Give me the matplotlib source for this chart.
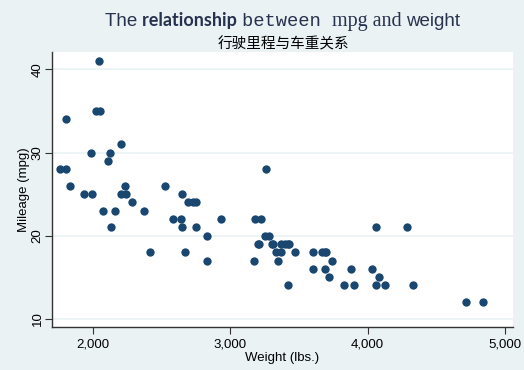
import matplotlib
matplotlib.use("Agg")
import matplotlib.pyplot as plt

# auto data: weight (lbs.) and mileage (mpg)
weight = [2930, 3350, 2640, 3250, 4080, 3670, 2230, 3280, 3880, 3400,
          4330, 3900, 4290, 2110, 3690, 3180, 3220, 2750, 3430, 2120,
          3600, 3600, 3740, 1800, 2650, 4840, 4720, 3830, 2580, 4060,
          3720, 3370, 4130, 2830, 4060, 3310, 3300, 3690, 3370, 2730,
          4030, 3260, 1800, 2200, 2520, 3330, 3700, 3470, 3210, 3200,
          3420, 2690, 2830, 2070, 2650, 2370, 2020, 2280, 2750, 2130,
          2240, 1760, 1980, 3420, 1830, 2050, 2410, 2200, 2670, 2160,
          2040, 1930, 1990, 3170]
mpg = [22, 17, 22, 20, 15, 18, 26, 20, 16, 19,
       14, 14, 21, 29, 16, 22, 22, 24, 19, 30,
       18, 16, 17, 28, 21, 12, 12, 14, 22, 14,
       15, 18, 14, 20, 21, 19, 19, 18, 19, 24,
       16, 28, 34, 25, 26, 18, 18, 18, 19, 19,
       19, 24, 17, 23, 25, 23, 35, 24, 21, 21,
       25, 28, 30, 14, 26, 35, 18, 31, 18, 23,
       41, 25, 25, 17]
xticks = [2000, 3000, 4000, 5000]
yticks = [10, 20, 30, 40]
title_parts = [("The ", "Liberation Sans", "normal", 13.5),
               ("relationship ", "Lato", "bold", 13),
               ("between ", "Liberation Mono", "normal", 13.5),
               ("mpg and ", "Liberation Serif", "normal", 14.5),
               ("weight", "Liberation Sans", "normal", 13.5)]
subtitle = "行驶里程与车重关系"

bg = "#eaf2f3"
W, H = 524, 370
fig = plt.figure(figsize=(W / 100, H / 100), dpi=100, facecolor=bg)
ax = fig.add_axes([52 / W, 1 - 327 / H, (513 - 52) / W, (327 - 52) / H])
ax.set_facecolor("white")

ax.scatter(weight, mpg, s=36, color="#1a476f", linewidths=0, zorder=3)

ax.set_xlim(1699, 5060)
ax.set_ylim(9.0, 42.1)
ax.set_xticks(xticks)
ax.set_xticklabels([f"{v:,}" for v in xticks])
ax.set_yticks(yticks)
ax.set_yticklabels([str(v) for v in yticks], rotation=90, va="center")
ax.grid(axis="y", color=bg, linewidth=1.2, zorder=0)
ax.set_axisbelow(True)

for s in ["top", "right"]:
    ax.spines[s].set_visible(False)
for s in ["left", "bottom"]:
    ax.spines[s].set_color("#333333")
    ax.spines[s].set_linewidth(1.0)
ax.tick_params(length=5, width=0.8, color="#333333", labelsize=9.5, pad=3)
ax.tick_params(axis="y", pad=1)
for lab in ax.get_xticklabels() + ax.get_yticklabels():
    lab.set_fontfamily("Liberation Sans")

ax.set_xlabel("Weight (lbs.)", fontsize=9.5, family="Liberation Sans", labelpad=1)
ax.set_ylabel("Mileage (mpg)", fontsize=9.5, family="Liberation Sans", labelpad=1)

# title made of pieces in different fonts, centred over the plot area
fig.canvas.draw()
rend = fig.canvas.get_renderer()
ybase = 1 - 26 / H
texts = []
total = 0
for txt, fam, wt, fs in title_parts:
    t = fig.text(0, ybase, txt, family=fam, weight=wt, fontsize=fs,
                 color="#27324f", va="baseline", ha="left")
    w = t.get_window_extent(rend).width
    texts.append((t, w))
    total += w
x = 282.5 - total / 2
for t, w in texts:
    t.set_x(x / W)
    x += w

fig.text(283 / W, 1 - 44 / H, subtitle, family=["Noto Sans CJK SC", "DejaVu Sans"],
         fontsize=10.5, ha="center", va="center", color="black")

fig.savefig("out.png", dpi=100, facecolor=bg)
